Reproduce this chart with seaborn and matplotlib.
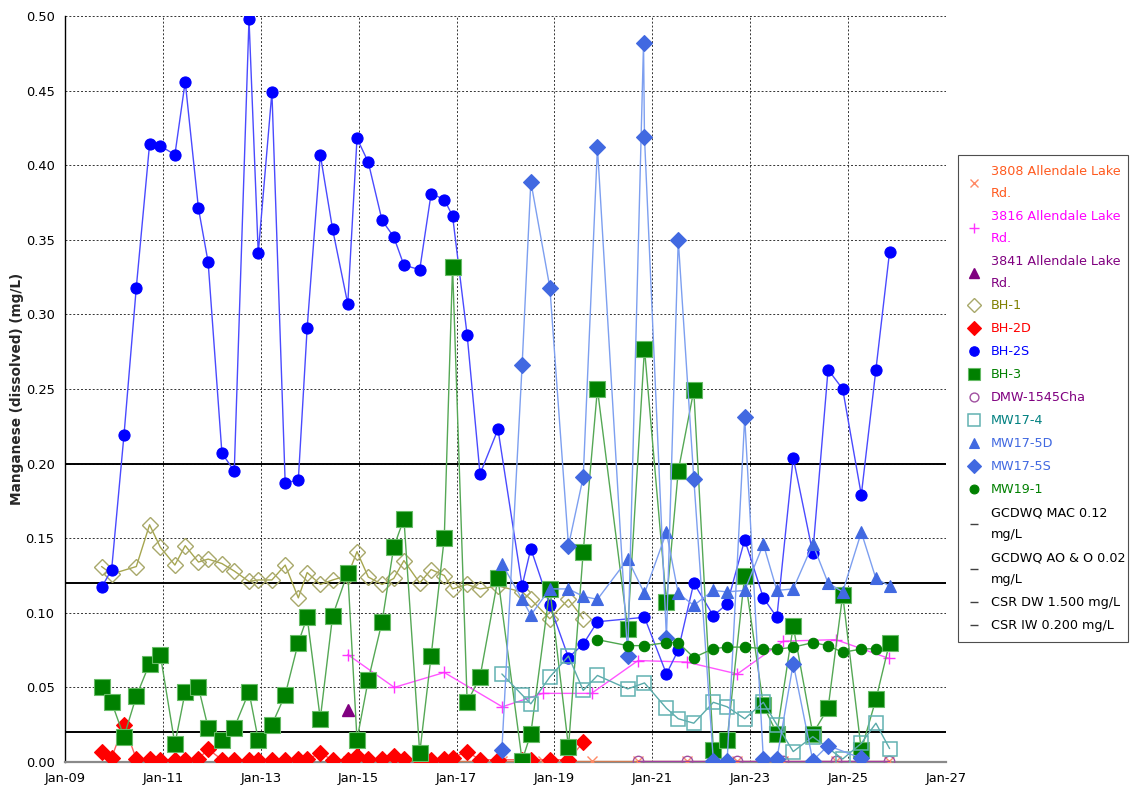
import pandas as pd
import matplotlib
matplotlib.use("Agg")
import matplotlib.pyplot as plt
import matplotlib.dates as mdates
from matplotlib.lines import Line2D
from matplotlib.ticker import MultipleLocator, FormatStrFormatter, FixedLocator
import seaborn as sns

# ---------------------------------------------------------------- data
# quarterly sampling rounds of the BH wells
bh_dates = [
    "2009-10-01", "2009-12-15", "2010-03-17", "2010-06-17", "2010-09-24",
    "2010-12-13", "2011-04-01", "2011-06-17", "2011-09-24", "2011-12-05",
    "2012-03-17", "2012-06-17", "2012-10-05", "2012-12-13", "2013-03-25",
    "2013-07-02", "2013-10-08", "2013-12-13", "2014-03-21", "2014-06-21",
    "2014-10-12", "2014-12-20", "2015-03-14", "2015-06-25", "2015-09-20",
    "2015-12-05", "2016-04-01", "2016-06-25", "2016-10-01", "2016-12-02",
    "2017-03-21", "2017-06-25", "2017-11-06", "2018-05-05", "2018-07-09",
    "2018-11-28", "2019-04-16", "2019-08-04", "2019-11-18", "2020-11-03",
    "2021-04-16", "2021-07-13", "2021-11-06", "2022-04-01", "2022-07-13",
    "2022-11-21", "2023-04-09", "2023-07-19", "2023-11-18", "2024-04-12",
    "2024-08-04", "2024-11-21", "2025-04-09", "2025-07-27", "2025-11-06",
]
bh2s_mn = [
    0.117, 0.129, 0.219, 0.318, 0.414, 0.413, 0.407, 0.456, 0.371, 0.335,
    0.207, 0.195, 0.498, 0.341, 0.449, 0.187, 0.189, 0.291, 0.407, 0.357,
    0.307, 0.418, 0.402, 0.363, 0.352, 0.333, 0.330, 0.381, 0.377, 0.366,
    0.286, 0.193, 0.223, 0.118, 0.143, 0.105, 0.070, 0.079, 0.094, 0.097,
    0.059, 0.075, 0.120, 0.098, 0.106, 0.149, 0.110, 0.097, 0.204, 0.140,
    0.263, 0.250, 0.179, 0.263, 0.342,
]
bh3_dates = bh_dates[:39] + ["2020-07-01"] + bh_dates[39:]
bh3_mn = [
    0.050, 0.040, 0.017, 0.044, 0.066, 0.072, 0.012, 0.047, 0.050, 0.023,
    0.015, 0.023, 0.047, 0.015, 0.025, 0.045, 0.080, 0.097, 0.029, 0.098,
    0.127, 0.015, 0.055, 0.094, 0.144, 0.163, 0.006, 0.071, 0.150, 0.332,
    0.040, 0.057, 0.123, 0.001, 0.019, 0.116, 0.010, 0.141, 0.250, 0.089,
    0.277, 0.107, 0.195, 0.249, 0.008, 0.015, 0.125, 0.038, 0.019, 0.091,
    0.019, 0.036, 0.112, 0.008, 0.042, 0.080,
]
bh1_dates = bh_dates[:2] + bh_dates[3:38]
bh1_mn = [
    0.131, 0.126, 0.131, 0.159, 0.144, 0.132, 0.145, 0.134, 0.136, 0.133,
    0.128, 0.121, 0.122, 0.122, 0.132, 0.110, 0.127, 0.119, 0.122, 0.125,
    0.141, 0.124, 0.119, 0.123, 0.135, 0.120, 0.129, 0.125, 0.116, 0.119,
    0.116, 0.118, 0.114, 0.109, 0.096, 0.109, 0.096,
]
bh2d_dates = bh_dates[:38]
bh2d_mn = [
    0.0065, 0.003, 0.025, 0.002, 0.002, 0.0015, 0.0015, 0.0015, 0.002, 0.0087,
    0.0015, 0.0015, 0.0015, 0.0015, 0.0015, 0.0015, 0.002, 0.002, 0.0058, 0.0015,
    0.0015, 0.0042, 0.002, 0.002, 0.004, 0.002, 0.0015, 0.0015, 0.002, 0.003,
    0.0069, 0.0015, 0.0015, 0.0015, 0.0015, 0.0015, 0.0015, 0.0132,
]

# MW17 / MW19 monitoring wells
mw_dates = [
    "2017-12-05", "2018-05-05", "2018-07-09", "2018-11-28", "2019-04-16",
    "2019-08-04", "2019-11-18", "2020-07-01", "2020-11-03", "2021-04-16",
    "2021-07-13", "2021-11-06", "2022-04-01", "2022-07-13", "2022-11-21",
    "2023-04-09", "2023-07-19", "2023-11-18", "2024-04-12", "2024-08-04",
    "2024-11-21", "2025-04-09", "2025-07-27", "2025-11-06",
]
mw175d_mn = [
    0.133, 0.109, 0.0985, 0.116, 0.116, 0.111, 0.109, 0.136, 0.113, 0.154,
    0.113, 0.105, 0.115, 0.114, 0.115, 0.146, 0.115, 0.116, 0.146, 0.120,
    0.114, 0.154, 0.123, 0.118,
]
mw174_dates = mw_dates[:19] + mw_dates[20:]
mw174_mn = [
    0.059, 0.045, 0.039, 0.057, 0.071, 0.048, 0.058, 0.049, 0.053, 0.036,
    0.029, 0.026, 0.040, 0.037, 0.029, 0.040, 0.025, 0.007, 0.017, 0.002,
    0.0125, 0.026, 0.009,
]
mw175s_dates = mw_dates[:8] + ["2020-10-27"] + mw_dates[8:20] + ["2025-04-09"]
mw175s_mn = [
    0.008, 0.266, 0.389, 0.318, 0.145, 0.191, 0.412, 0.071, 0.482, 0.419,
    0.083, 0.350, 0.190, 0.001, 0.001, 0.231, 0.002, 0.002, 0.066, 0.001,
    0.011, 0.0025,
]
mw191_dates = mw_dates[6:23]
mw191_mn = [
    0.082, 0.078, 0.078, 0.080, 0.080, 0.070, 0.076, 0.077, 0.077, 0.076,
    0.0755, 0.077, 0.080, 0.078, 0.0735, 0.0757, 0.076,
]

# residential wells on Allendale Lake Rd.
res_dates = [
    "2014-10-12", "2015-09-24", "2016-10-01", "2017-12-08", "2018-10-07",
    "2019-10-05", "2020-09-16", "2021-09-13", "2022-09-27", "2023-09-05",
    "2024-10-01", "2025-10-30",
]
r3816_mn = [0.072, 0.050, 0.060, 0.037, 0.046, 0.046, 0.068, 0.067, 0.059,
            0.081, 0.082, 0.0695]
r3808_mn = [0.0005] * 12
r3841_dates = ["2014-10-12"]
r3841_mn = [0.035]
dmw_dates = res_dates[6:]
dmw_mn = [0.0005, 0.0005, 0.0005, 0.0005, 0.0005, 0.0005]

# guideline / standard values (mg/L)
criteria_labels = ["GCDWQ MAC 0.12\nmg/L", "GCDWQ AO & O 0.02\nmg/L",
                   "CSR DW 1.500 mg/L", "CSR IW 0.200 mg/L"]
criteria_values = [0.12, 0.02, 1.5, 0.2]

# x-axis ticks (every second January)
tick_dates = ["2009-01-01", "2011-01-01", "2013-01-01", "2015-01-01",
              "2017-01-01", "2019-01-01", "2021-01-01", "2023-01-01",
              "2025-01-01", "2027-01-01"]

# ---------------------------------------------------------------- style
sns.set_style("white")
plt.rcParams["font.family"] = ["DejaVu Sans"]
plt.rcParams["font.size"] = 9.2

fig = plt.figure(figsize=(11.31, 7.86), dpi=100)
ax = fig.add_axes([65 / 1131, 24 / 786, (946 - 65) / 1131, (762 - 16) / 786])

for v in criteria_values:
    ax.axhline(v, color="black", lw=1.4, zorder=1.5)

# (label, dates, values, line colour, marker, size, face, edge, edge width, text colour)
series = [
    ("3808 Allendale Lake\nRd.", res_dates, r3808_mn, "#d07a50", "x", 7.5, "#ff8a66", "#ff8a66", 1.0, "#ff5a1f"),
    ("3816 Allendale Lake\nRd.", res_dates, r3816_mn, "#ff55ff", "+", 8, "#ff33ff", "#ff33ff", 1.0, "#ff00ff"),
    ("3841 Allendale Lake\nRd.", r3841_dates, r3841_mn, "#800080", "^", 8, "#800080", "#800080", 1.0, "#800080"),
    ("BH-1", bh1_dates, bh1_mn, "#a6a650", "D", 8, "none", "#a8a86a", 1.0, "#808000"),
    ("BH-2D", bh2d_dates, bh2d_mn, "#ff6060", "D", 8, "#ff0000", "#ff0000", 0.8, "#ff0000"),
    ("BH-2S", bh_dates, bh2s_mn, "#4a4aff", "o", 8, "#0000ff", "#0000ff", 0.8, "#0000ff"),
    ("BH-3", bh3_dates, bh3_mn, "#55a855", "s", 11, "#008000", "#66bb66", 0.8, "#008000"),
    ("DMW-1545Cha", dmw_dates, dmw_mn, "#a040a0", "o", 7.5, "none", "#a050a0", 1.0, "#800080"),
    ("MW17-4", mw174_dates, mw174_mn, "#5aaaaa", "s", 9.5, "none", "#62b2b2", 1.1, "#008080"),
    ("MW17-5D", mw_dates, mw175d_mn, "#7d9ff0", "^", 8.5, "#4169e1", "#4169e1", 0.8, "#4169e1"),
    ("MW17-5S", mw175s_dates, mw175s_mn, "#7d9ff0", "D", 8, "#4169e1", "#4169e1", 0.8, "#4169e1"),
    ("MW19-1", mw191_dates, mw191_mn, "#4da64d", "o", 7.5, "#008000", "#008000", 0.8, "#008000"),
]

handles, labels, text_colors = [], [], []
for label, dates, vals, lc, mk, ms, fc, ec, mew, tc in series:
    df = pd.DataFrame({"date": pd.to_datetime(dates), "mn": vals})
    sns.lineplot(data=df, x="date", y="mn", ax=ax, color=lc, linewidth=1.0,
                 marker=mk, markersize=ms, markerfacecolor=fc,
                 markeredgecolor=ec, markeredgewidth=mew,
                 sort=False, estimator=None, legend=False, zorder=3)
    handles.append(Line2D([], [], ls="none", marker=mk, ms=ms * 0.85,
                          mfc=fc, mec=ec, mew=mew))
    labels.append(label)
    text_colors.append(tc)

for label in criteria_labels:
    handles.append(Line2D([], [], ls="none", marker="_", ms=6, mew=1.0,
                          color="#404040"))
    labels.append(label)
    text_colors.append("black")

# ---------------------------------------------------------------- axes
ax.set_xlim(pd.Timestamp("2009-01-01"), pd.Timestamp("2027-01-01"))
ax.set_ylim(0, 0.5)
ax.xaxis.set_major_locator(FixedLocator(mdates.date2num(pd.to_datetime(tick_dates))))
ax.xaxis.set_major_formatter(mdates.DateFormatter("%b-%y"))
ax.yaxis.set_major_locator(MultipleLocator(0.05))
ax.yaxis.set_major_formatter(FormatStrFormatter("%.2f"))
ax.set_xlabel("")
ax.set_ylabel("Manganese (dissolved) (mg/L)", fontweight="bold", fontsize=9.8,
              labelpad=1)
ax.grid(True, color="#333333", ls=(0, (2, 2)), lw=0.7, zorder=0)
ax.set_axisbelow(True)
for side in ("top", "right"):
    ax.spines[side].set_visible(False)
ax.spines["left"].set_color("black")
ax.spines["left"].set_linewidth(1.0)
ax.spines["bottom"].set_color("#8a8a8a")
ax.spines["bottom"].set_linewidth(1.6)
ax.tick_params(axis="both", direction="out", length=4, width=0.8,
               colors="#333333", labelcolor="black", labelsize=9.4)

leg = fig.legend(handles, labels, loc="upper left",
                 bbox_to_anchor=(958 / 1131, 1 - 155 / 786, 170 / 1131, 0.0),
                 mode="expand", frameon=True, fancybox=False, fontsize=9.2,
                 handlelength=1.0, handletextpad=0.8, labelspacing=0.78,
                 borderpad=0.75, borderaxespad=0.0)
leg.get_frame().set_edgecolor("#222222")
leg.get_frame().set_linewidth(0.8)
for txt, col in zip(leg.get_texts(), text_colors):
    txt.set_color(col)
    txt.set_linespacing(1.9)

fig.savefig("out.png", dpi=100)
